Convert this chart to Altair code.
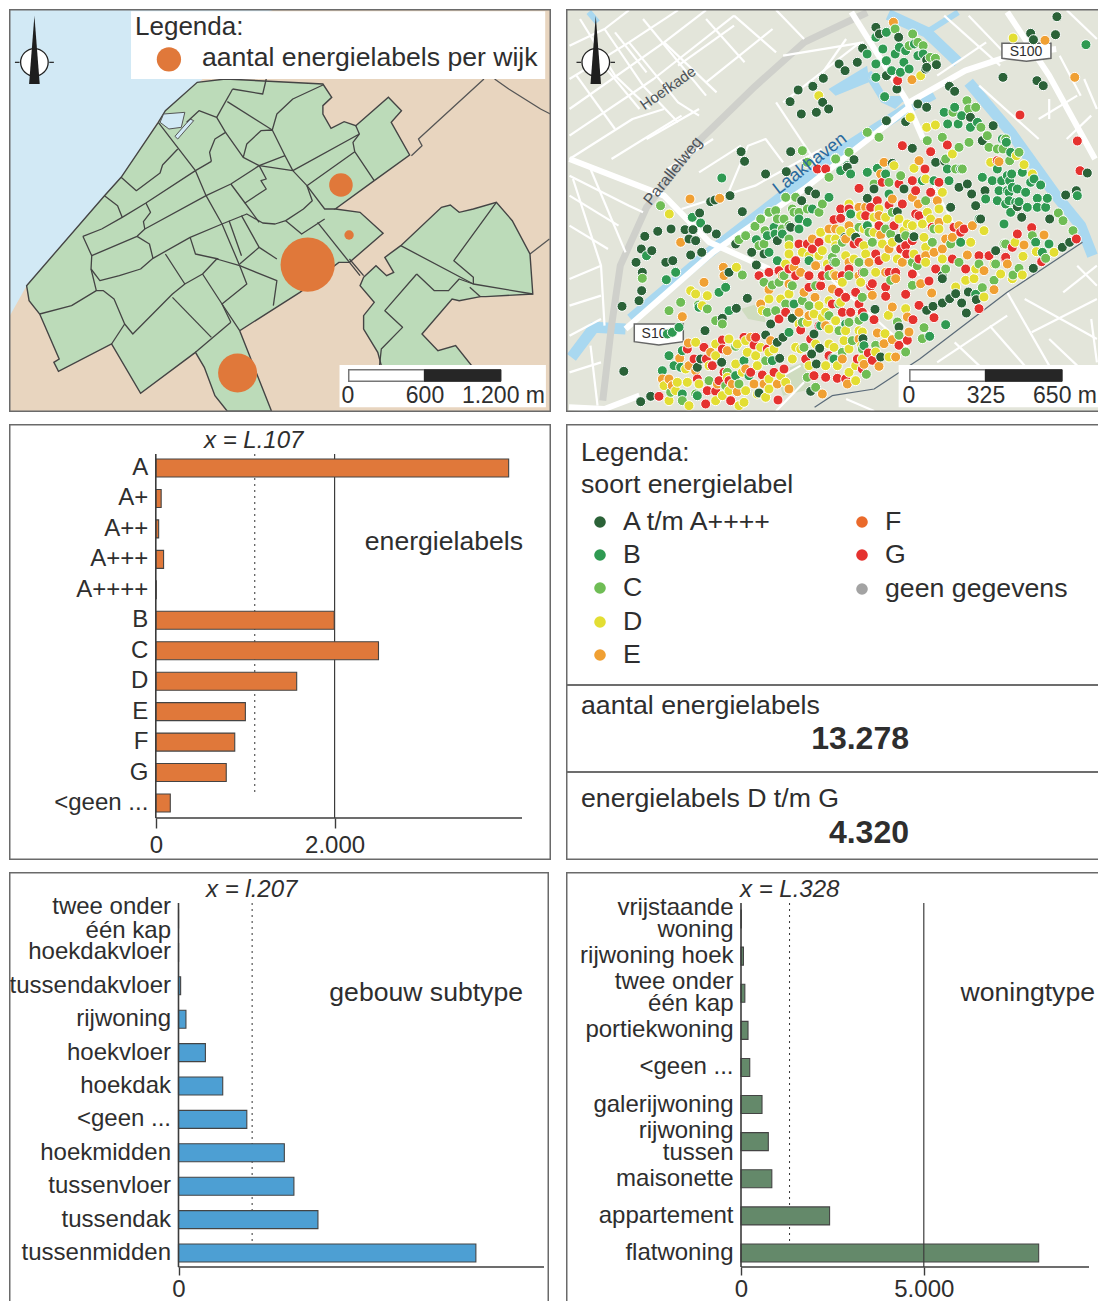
import altair as alt
import pandas as pd

FONT = "Liberation Sans"
INK = "#2e2e2e"
LINE = "#3c3c3c"
BOX = "#6a6a6a"
ORANGE = "#e0783a"

# ---------- bar data ----------
energy_cats = ["A", "A+", "A++", "A+++", "A++++", "B", "C", "D", "E", "F", "G", "<geen ..."]
energy_vals = [3947, 60, 32, 87, 5, 1996, 2491, 1576, 1002, 883, 788, 162]
sub_cats = ["twee onder|één kap\u00a0\u00a0", "hoekdakvloer", "tussendakvloer", "rijwoning", "hoekvloer", "hoekdak",
            "<geen ...", "hoekmidden", "tussenvloer", "tussendak", "tussenmidden"]
sub_vals = [1, 2, 35, 122, 441, 725, 1120, 1735, 1892, 2286, 4875]
type_cats = ["vrijstaande|woning", "rijwoning hoek", "twee onder|één kap", "portiekwoning", "<geen ...",
             "galerijwoning", "rijwoning|tussen", "maisonette", "appartement", "flatwoning"]
type_vals = [8, 67, 105, 192, 239, 575, 747, 843, 2423, 8142]

# ---------- legend data ----------
label_names = ["A t/m A++++", "B", "C", "D", "E", "F", "G", "geen gegevens"]
label_colors = ["#2b6238", "#2f9a52", "#6fbd55", "#e3de33", "#f0a033", "#ea6a2b", "#e5322f", "#a3a3a3"]

# ---------- left map (reference units) ----------
water = [(0, 0), (780, 0), (760, 40), (575, 240), (450, 365), (345, 535), (298, 590), (78, 860), (0, 955)]
main_area = [(78, 860), (298, 590), (345, 535), (450, 370), (470, 335), (560, 250), (640, 240), (915, 255), (940, 295),
             (915, 320), (915, 345), (938, 388), (975, 368), (1008, 380), (1100, 295), (1137, 335), (1108, 370),
             (1160, 468), (1060, 545), (950, 630), (1020, 640), (1085, 703), (990, 790), (960, 790), (850, 880),
             (680, 995), (770, 1250), (645, 1250), (610, 1190), (580, 1105), (555, 1060), (400, 1183), (318, 1035),
             (168, 1117), (155, 1090), (170, 1080), (115, 945), (85, 905)]
east_area = [(1030, 835), (1065, 800), (1095, 830), (1115, 820), (1090, 775), (1135, 740), (1250, 625), (1275, 618),
             (1300, 640), (1340, 630), (1405, 610), (1450, 665), (1500, 765), (1508, 885), (1375, 893), (1360, 893),
             (1300, 905), (1280, 900), (1195, 1005), (1240, 1055), (1290, 1040), (1335, 1100), (1080, 1100),
             (1070, 1060), (1030, 990), (1030, 950), (1060, 910), (1020, 860)]
harbour = [(465, 345), (525, 340), (515, 385), (480, 390), (455, 370)]
harbour2 = [(540, 360), (550, 365), (505, 420), (497, 412)]
wijk_lines = [
    [(450, 370), (555, 515), (585, 590), (630, 675), (680, 800), (700, 855), (630, 915), (680, 995)],
    [(345, 535), (388, 575), (455, 522), (462, 498), (505, 450)],
    [(298, 590), (335, 620), (348, 655)],
    [(237, 712), (290, 690), (348, 655), (415, 612), (555, 515), (600, 487)],
    [(415, 612), (428, 640), (408, 668), (412, 690)],
    [(237, 712), (262, 770), (260, 810), (275, 875)],
    [(262, 770), (390, 712), (412, 690), (585, 590), (655, 555), (735, 500), (808, 470)],
    [(390, 712), (425, 735), (435, 778)],
    [(260, 810), (285, 845), (340, 830), (400, 810), (435, 778), (540, 715), (630, 675), (700, 645), (745, 672), (780, 675), (810, 665)],
    [(600, 487), (595, 460), (610, 420), (640, 400), (615, 355), (565, 335), (530, 370)],
    [(615, 355), (660, 270)],
    [(640, 400), (690, 475), (735, 500), (755, 540), (740, 545), (755, 570), (695, 612), (655, 555)],
    [(690, 475), (700, 435), (740, 395), (772, 393), (808, 470), (830, 515)],
    [(772, 393), (645, 308)],
    [(772, 393), (785, 345), (830, 300), (915, 258)],
    [(660, 270), (745, 285), (755, 240)],
    [(830, 515), (1018, 405), (1000, 430), (1005, 458), (1060, 545)],
    [(1018, 405), (1008, 380)],
    [(870, 560), (885, 605), (860, 630), (810, 665), (855, 705), (920, 660)],
    [(735, 500), (830, 515), (870, 560), (1005, 458)],
    [(870, 560), (920, 630), (950, 630)],
    [(695, 612), (735, 670)],
    [(900, 670), (1020, 830)],
    [(470, 765), (525, 855), (575, 825), (615, 780), (680, 800), (785, 845), (775, 920)],
    [(540, 715), (555, 765), (620, 780)],
    [(650, 665), (685, 770)],
    [(685, 650), (735, 745), (680, 795)],
    [(735, 745), (785, 780)],
    [(575, 825), (630, 915), (655, 970)],
    [(525, 855), (490, 885), (378, 1005), (355, 975), (325, 900), (295, 875), (275, 875), (205, 920), (115, 945)],
    [(490, 895), (600, 1015)],
    [(355, 975), (318, 1035)],
    [(555, 1060), (655, 970)],
    [(1135, 740), (1340, 855), (1508, 885)],
    [(1405, 610), (1285, 785), (1340, 835), (1340, 855)],
    [(1180, 825), (1090, 935), (1140, 985), (1080, 1050), (1075, 1100)],
    [(1180, 825), (1230, 875), (1270, 875), (1300, 840), (1340, 855)],
    [(1360, 893), (1330, 865)],
    [(990, 780), (1030, 830)],
]
outer_lines = [
    [(1165, 470), (1195, 440), (1185, 420), (1370, 240)],
    [(1400, 240), (1440, 270), (1530, 330), (1560, 345)],
    [(1500, 765), (1555, 720)],
]
bubble_x = [872, 674, 966, 989]
bubble_y = [797, 1122, 558, 708]
bubble_n = [7652, 3952, 1445, 229]

# ---------- right map (reference units) ----------
major_roads = [
    [(1280, 25), (1400, 230), (1545, 480)],
    [(1000, 310), (1160, 215), (1290, 170), (1420, 150)],
    [(190, 990), (440, 760), (700, 570), (1000, 325)],
    [(30, 480), (300, 590), (430, 730), (600, 810)],
    [(835, 25), (990, 300), (1040, 420)],
    [(20, 1225), (130, 1235), (230, 1190)],
]
minor_roads = [
    [(30, 140), (130, 90), (200, 30)], [(30, 240), (200, 130), (340, 30)], [(30, 330), (300, 130), (420, 30)],
    [(30, 410), (270, 240), (500, 50)], [(130, 90), (240, 260), (340, 370)], [(200, 130), (340, 310), (400, 350)],
    [(300, 130), (450, 280)], [(420, 60), (530, 190)], [(500, 50), (620, 160)], [(620, 30), (700, 120)],
    [(160, 100), (250, 220)], [(50, 230), (160, 390)], [(120, 190), (230, 330)],
    [(30, 530), (200, 620), (240, 640)], [(30, 590), (170, 680)], [(30, 680), (140, 750)], [(40, 540), (120, 800), (130, 980)],
    [(90, 510), (190, 760)], [(30, 840), (120, 800)], [(30, 920), (120, 890)], [(30, 1010), (120, 960)],
    [(30, 1120), (120, 1090)], [(90, 1040), (110, 1220)],
    [(350, 630), (560, 560), (750, 450)], [(480, 590), (540, 440), (590, 420), (640, 490)], [(620, 310), (740, 500)],
    [(640, 170), (870, 130)], [(640, 310), (860, 130)], [(740, 240), (820, 120)],
    [(1100, 50), (1260, 200)], [(1170, 50), (1280, 170)], [(1450, 30), (1560, 120)], [(1200, 260), (1370, 420)],
    [(1370, 360), (1480, 290)], [(1430, 170), (1490, 290)], [(1500, 240), (1568, 330)],
    [(1280, 880), (1400, 1100)], [(1330, 900), (1568, 1020)], [(1350, 1000), (1568, 900)], [(1230, 980), (1330, 1100)],
    [(1080, 1090), (1280, 950)], [(1130, 1030), (1200, 1100)], [(1400, 1020), (1480, 1100)], [(1480, 800), (1568, 860)],
    [(1440, 880), (1550, 800)], [(1520, 960), (1568, 1090)],
    [(820, 1200), (900, 1240)], [(590, 1160), (690, 1100)], [(620, 1240), (700, 1150)],
    [(1040, 500), (1150, 720)], [(830, 600), (1030, 830)], [(690, 760), (1000, 1050)],
    [(60, 60), (160, 230), (260, 330)], [(240, 60), (420, 290)], [(340, 200), (500, 80)], [(420, 250), (610, 90)],
    [(30, 480), (210, 360), (300, 330)], [(250, 420), (400, 330)], [(310, 510), (440, 420)], [(150, 480), (350, 350)],
    [(1400, 300), (1400, 360)], [(1220, 130), (1080, 230)], [(1450, 420), (1520, 350)], [(400, 520), (520, 440)],
]
rail = [[(125, 1205), (150, 980), (175, 800), (250, 625), (400, 425), (560, 262), (700, 130), (880, 25)]]
water_wide = [
    [(205, 960), (430, 760), (640, 590), (770, 480), (1000, 325), (1070, 285)],
    [(1170, 250), (1290, 400), (1420, 590), (1490, 680), (1568, 770)],
    [(25, 1075), (100, 985), (190, 990)],
    [(940, 25), (1050, 100), (1140, 190)],
]
water_thin = [[(1050, 100), (1140, 40)], [(800, 270), (880, 220)], [(885, 220), (930, 300), (990, 300)], [(85, 25), (110, 70)]]
edge_line = [[(1495, 730), (1280, 880), (1030, 1080), (900, 1170), (780, 1190), (730, 1225)]]
park = [[(520, 930), (580, 910), (590, 970), (540, 960)], [(620, 1120), (700, 1090), (720, 1170), (640, 1190)]]

dots_A = [(867, 148), (800, 195), (817, 215), (852, 190), (905, 85), (970, 115), (1050, 183), (1078, 197), (1047, 210),
          (755, 238), (683, 273), (725, 262), (660, 308), (753, 310), (770, 330), (692, 345), (735, 340), (520, 458),
          (530, 487), (660, 458), (590, 525), (730, 583), (713, 577), (695, 605), (488, 590), (435, 605), (523, 638),
          (400, 640), (380, 655), (420, 690), (450, 707), (360, 695), (385, 695), (320, 690), (282, 697), (245, 712),
          (235, 750), (265, 755), (220, 790), (390, 755), (370, 735), (400, 720), (355, 765), (325, 785), (305, 790),
          (330, 815), (205, 838), (235, 875), (200, 882), (180, 922), (215, 905), (240, 905), (548, 760), (565, 797),
          (540, 885), (535, 905), (510, 930), (185, 1117), (1422, 53), (1347, 103), (1418, 107), (1355, 122), (1538, 175),
          (1268, 235), (1365, 245), (1383, 260), (1130, 277), (1115, 262), (1050, 325), (1025, 315), (1550, 485), (1507, 522),
          (1555, 550), (1448, 587), (1482, 575), (1437, 745), (1460, 730), (1405, 660), (1320, 657), (1355, 805), (1165, 945),
          (1165, 880), (1118, 897), (1090, 910), (1065, 920), (1048, 935), (1145, 905), (1010, 415), (1000, 455),
          (1015, 450), (950, 495), (1085, 495), (1100, 483), (1145, 540), (1165, 565), (1170, 590), (1215, 575), (1190, 620),
          (1120, 625), (1210, 425), (1240, 380), (1245, 455), (1175, 355), (905, 930), (985, 575), (900, 573), (880, 600),
          (815, 715), (855, 725), (950, 750), (1050, 790), (1095, 838), (635, 1080), (640, 1025), (630, 1000), (605, 975),
          (745, 1010), (745, 1075), (730, 1045), (460, 1090), (400, 1082), (415, 998), (320, 1140), (395, 1185), (260, 1195),
          (230, 1210), (205, 1225), (290, 1200), (925, 1075), (810, 1095), (735, 1180), (665, 1050), (835, 505), (825, 510),
          (845, 480), (805, 505), (935, 365), (990, 368), (945, 390), (660, 688), (680, 660), (640, 700), (915, 105),
          (1050, 205), (965, 270), (935, 230)]
dots_B = [(935, 100), (905, 115), (925, 150), (972, 145), (990, 155), (935, 185), (985, 190), (1015, 135), (1025, 170),
          (905, 235), (930, 293), (950, 215), (1000, 210), (975, 220), (1040, 165), (905, 195), (960, 165), (880, 165),
          (1505, 137), (1100, 340), (1130, 325), (1140, 375), (1175, 385), (1110, 375), (1150, 350), (1195, 395), (1130, 395),
          (1165, 415), (1195, 370), (1225, 415), (1260, 420), (1275, 430), (1290, 490), (1260, 510), (1230, 535), (1210, 540),
          (1240, 560), (1265, 545), (1290, 530), (1320, 550), (1245, 590), (1275, 590), (1300, 580), (1345, 575), (1260, 620),
          (1290, 620), (1320, 610), (1350, 610), (1380, 600), (1270, 650), (1300, 640), (1340, 635), (1400, 605), (1355, 545),
          (1375, 575), (1245, 520), (1300, 515), (1330, 530), (1430, 640), (1465, 695), (1270, 735), (1150, 510), (890, 405),
          (915, 400), (860, 440), (905, 425), (785, 490), (800, 520), (815, 535), (770, 535), (770, 600), (785, 570), (620, 640),
          (635, 670), (600, 660), (575, 665), (600, 700), (625, 695), (650, 660), (560, 690), (680, 625), (600, 645), (575, 730),
          (600, 765), (720, 632), (530, 715), (465, 537), (250, 770), (300, 840), (240, 820), (340, 990), (455, 880), (515, 828),
          (1105, 978), (1150, 730), (1170, 755), (975, 765), (1060, 860), (1210, 860), (1220, 885), (895, 880), (770, 810),
          (720, 790), (850, 750), (1030, 580), (1075, 550), (1050, 425), (1000, 425), (900, 510), (740, 640)]
dots_C = [(1537, 350), (698, 458), (1025, 130), (1010, 105), (1075, 178), (1040, 140), (960, 90), (1000, 140), (1060, 175),
          (1125, 340), (1165, 305), (1190, 325), (1145, 400), (1125, 420), (1075, 400), (1170, 330), (1205, 385), (1300, 460),
          (1330, 570), (1350, 665), (1370, 650), (1440, 665), (1410, 760), (1385, 735), (1260, 800), (1300, 830), (1240, 795),
          (1275, 740), (1240, 770), (660, 565), (640, 590), (690, 565), (590, 640), (555, 683), (520, 700), (600, 605), (625, 610),
          (640, 640), (600, 680), (575, 700), (640, 720), (680, 690), (775, 590), (800, 550), (850, 440), (880, 430), (925, 390),
          (520, 828), (315, 935), (345, 905), (400, 915), (290, 620), (370, 960), (910, 510), (875, 530), (1075, 540), (1100, 590),
          (1000, 600), (1040, 560), (910, 590), (850, 620), (870, 650), (820, 680), (760, 650), (720, 720), (690, 780), (660, 810),
          (600, 850), (630, 880), (770, 770), (740, 770), (840, 770), (900, 760), (960, 720), (1000, 790), (1035, 830), (1040, 980),
          (1045, 1015), (970, 970), (890, 1000), (820, 1020), (745, 960), (700, 900), (640, 980), (590, 1000), (560, 1040), (500, 1040),
          (430, 1060), (370, 1075), (310, 1070), (300, 1115), (380, 1185), (440, 1140), (520, 1130), (720, 1130), (770, 1100),
          (880, 1120), (800, 1060), (850, 1030), (950, 1040), (1190, 790), (1160, 830), (1210, 900)]
dots_D = [(1297, 117), (1548, 140), (742, 290), (1033, 230), (1003, 355), (1050, 385), (1075, 378), (1120, 467), (1305, 470),
          (1328, 495), (1350, 525), (1230, 495), (1213, 695), (1300, 730), (1327, 772), (1365, 730), (1360, 760), (1270, 830),
          (1235, 825), (1180, 800), (380, 885), (425, 890), (370, 870), (350, 905), (480, 840), (315, 645), (435, 965), (415, 985),
          (960, 450), (1015, 505), (960, 545), (1090, 580), (985, 530), (1105, 660), (1045, 720), (1040, 690), (970, 720), (910, 700),
          (905, 820), (880, 790), (815, 760), (815, 830), (780, 815), (745, 800), (745, 840), (730, 770), (690, 755), (665, 785),
          (635, 850), (655, 890), (710, 880), (745, 920), (780, 890), (800, 920), (840, 890), (870, 930), (900, 960), (960, 910),
          (990, 930), (1015, 870), (1060, 770), (1080, 720), (980, 830), (945, 840), (800, 990), (815, 1000), (860, 1000), (935, 1010),
          (1000, 1000), (770, 1030), (730, 985), (695, 1025), (670, 990), (590, 1030), (510, 1035), (445, 1045), (410, 1100), (370, 1150),
          (345, 1120), (510, 1110), (560, 1100), (600, 1070), (660, 1080), (700, 1100), (735, 1080), (840, 1060), (880, 1060), (910, 1040),
          (300, 1165), (530, 1170), (590, 1190), (555, 1220), (310, 1225), (1120, 660), (1170, 690), (1120, 780), (1145, 810), (1205, 790),
          (870, 700), (790, 665), (850, 650), (890, 660), (930, 640), (970, 660), (1000, 640), (1030, 640)]
dots_E = [(955, 70), (1388, 124), (1008, 242), (1473, 235), (373, 598), (460, 598), (347, 730), (475, 832), (415, 850), (352, 953),
          (1130, 500), (1080, 605), (1010, 595), (930, 490), (915, 605), (795, 650), (770, 690), (720, 750), (730, 800), (660, 855),
          (600, 885), (610, 910), (690, 920), (770, 850), (830, 860), (920, 760), (1000, 820), (1030, 915), (1060, 860), (1080, 810),
          (1140, 835), (1330, 735), (1325, 832), (1385, 710), (1180, 850), (460, 990), (470, 1010), (400, 1020), (345, 1080), (440, 1100),
          (510, 1180), (550, 1160), (610, 1210), (630, 1205), (750, 1020), (770, 985), (875, 1100), (915, 1095), (720, 1060), (700, 1060),
          (750, 1195), (985, 880), (790, 910), (830, 1010), (620, 1075), (1220, 750)]
dots_F = [(1030, 600), (965, 490), (940, 490), (835, 830), (1095, 880), (1060, 930), (620, 950), (690, 860), (510, 1070), (370, 1030),
          (1200, 820), (1150, 850), (1250, 760), (865, 835), (765, 730)]
dots_G = [(985, 38), (1555, 105), (1317, 348), (1482, 427), (1487, 515), (1527, 537), (967, 245), (738, 510), (980, 442),
          (1060, 460), (1110, 440), (1045, 510), (1105, 545), (1075, 517), (860, 567), (810, 625), (945, 618), (980, 620), (1000, 700),
          (990, 745), (985, 770), (870, 600), (910, 610), (835, 650), (770, 695), (745, 735), (780, 760), (850, 790), (890, 840), (930, 865),
          (900, 870), (880, 860), (720, 830), (750, 835), (700, 800), (630, 815), (990, 885), (1040, 875), (1010, 825), (950, 810), (1070, 960),
          (830, 935), (850, 915), (690, 995), (650, 1040), (615, 1030), (555, 1015), (540, 1035), (470, 1020), (395, 1050), (465, 1090),
          (425, 1180), (490, 1200), (575, 1130), (485, 1090), (730, 1135), (795, 1140), (770, 1155), (815, 1080), (860, 1070), (930, 1060),
          (1130, 685), (1150, 680), (1205, 925), (1280, 865), (1240, 870), (1280, 770), (1350, 685), (1310, 705), (1170, 770), (1100, 760),
          (285, 1195), (320, 1080)]

# closer readings of dense areas, in units of a third of a pixel from each area's corner
area1_origin = (630, 270, 240, 143)
area1 = {
    "G": [(450,5),(540,18),(578,22),(575,50),(680,70),(630,70),(665,130),(640,130),(690,105),(610,105),(570,170),(515,183),(450,150),(470,130),(380,205),(375,228),(280,213),(280,240),(225,235),(175,240),(195,270),(232,270),(285,310),(300,335),(400,318),(555,320),(590,325),(625,328),(235,365),(260,367),(305,395),(447,393),(90,382),(230,405),(685,270),(545,210),
          (415,240),(345,205),(250,290),(205,330),(270,335),(365,310),(435,310),(465,300),(530,270),(600,260),(650,330),(700,300),(700,130),(650,85),(540,55),(500,20),(420,10),(390,20)],
    "E": [(285,20),(225,40),(480,45),(420,62),(610,60),(160,143),(178,222),(295,245),(152,268),(558,85),(510,130),(525,70),(395,105),(120,330),(365,205),(325,368),(375,345),(655,345),(580,375),(690,210),(590,170),
          (690,20),(620,20),(540,140),(425,215),(350,300),(200,305),(245,250),(180,290),(100,330),(130,350),(265,345),(310,345),(405,345),(445,345),(480,360),(640,270)],
    "D": [(455,90),(185,65),(200,75),(235,80),(420,90),(570,110),(600,95),(635,100),(695,40),(640,40),(620,155),(650,185),(645,215),(690,185),(480,75),(325,225),(400,125),(435,240),(515,240),(490,270),(355,250),(320,285),(380,260),(385,290),(340,310),(175,340),(105,350),(210,345),(295,325),(375,412),(345,400),(660,310),(700,270),(680,335),(625,290),(600,225),(580,145),(590,130),(615,235),(500,235),(220,110),
          (555,135),(535,160),(510,165),(600,180),(560,225),(660,240),(680,290),(590,290),(540,290),(455,320),(420,330),(470,340),(420,250),(395,235),(350,215),(300,210),(260,225),(200,220),(260,260),(240,290),(170,300),(145,340),(140,365),(120,395),(180,410),(260,395),(280,380),(330,410),(410,385),(420,360),(385,375),(350,365),(300,365)],
    "C": [(340,18),(40,28),(155,100),(120,125),(208,108),(235,120),(320,232),(430,48),(405,40),(490,50),(560,50),(630,105),(640,250),(670,215),(525,235),(240,335),(290,350),(160,395),(200,375),(330,345),(280,165),(260,155),(295,310),(535,325),(560,355),(410,275),(700,240),(630,185),(125,370),
          (450,40),(465,20),(520,95),(600,20),(660,20),(700,85),(540,110),(520,160),(470,105),(440,125),(415,130),(600,140),(660,160),(690,150)],
    "B": [(112,32),(270,70),(290,55),(140,10),(300,125),(210,115),(150,175),(130,190),(115,195),(495,105),(120,260),(155,295),(135,290),(160,245),(345,275),(320,320),(100,305),(430,275),(480,190),(360,320),(615,270),(205,380),(160,375),(490,145),(650,165),(575,170),(705,230)],
    "A": [(140,8),(38,65),(30,95),(355,88),(322,118),(280,148),(228,185),(278,280),(205,295),(215,270),(425,165),(410,198),(462,205),(445,220),(490,148),(555,195),(572,238),(548,255),(562,285),(612,268),(452,268),(390,372),(300,10),(65,382),(35,398),(10,412),(545,367),(40,10)],
}
area2_origin = (780, 130, 240, 150)
area2 = {
    "G": [(370,50),(455,68),(505,48),(438,120),(480,160),(400,155),(240,178),(330,228),(295,215),(275,235),(185,240),(370,225),(410,255),(185,268),(165,272),(525,295),(545,310),(555,300),(460,295),(85,345),(120,340),(100,360),(225,345),(380,350),(383,375),(365,360),(290,375),(50,395),(655,95),(680,385),(600,380),(630,380),(330,430),(250,430),(130,440),(90,440),(190,440),(400,435),(115,120),(140,120),(420,260),(240,340),(300,395),
          (60,345),(210,240),(260,260),(345,290),(300,290),(400,335),(420,390),(520,390),(560,420),(470,420),(350,430),(210,420),(150,420),(30,420),(310,160),(360,165),(410,185),(455,190)],
    "E": [(315,100),(400,205),(418,225),(475,215),(240,235),(150,300),(100,330),(305,318),(465,370),(565,378),(540,290),(580,290),(45,415),(110,410),(615,425),(10,440),(320,430),(210,290),(490,360),(65,430),
          (260,235),(200,330),(170,300),(330,360),(270,400),(210,400),(500,330),(520,325),(480,280),(440,380),(370,400),(300,260),(340,210),(420,95),(305,135)],
    "D": [(520,75),(405,118),(440,150),(490,190),(345,110),(210,225),(285,265),(320,265),(70,370),(120,380),(125,310),(185,305),(285,310),(435,325),(575,340),(615,305),(505,270),(440,355),(430,285),(225,390),(490,390),(440,400),(165,435),(290,430),(590,420),(645,405),(360,270),(30,375),(20,405),(635,100),(375,305),(355,390),(260,375),
          (130,365),(145,405),(170,350),(200,380),(255,300),(255,350),(310,345),(340,340),(320,385),(400,290),(405,375),(455,270),(480,300),(480,240),(445,250),(385,285),(300,240),(245,260),(215,310),(170,330),(30,350),(90,380),(150,330)],
    "C": [(70,65),(445,35),(490,25),(540,55),(570,40),(625,20),(265,10),(300,25),(210,70),(150,145),(365,140),(330,160),(285,165),(40,240),(15,270),(45,250),(340,250),(440,215),(240,295),(270,310),(335,315),(515,345),(160,385),(415,410),(255,430),(85,100),(170,90),(630,55),(655,60),(680,30),(530,120),(650,405),(600,405),(465,300),(675,345),(500,90),(550,120),(20,205),(50,205),(130,225),
          (170,400),(240,400),(280,340),(320,300),(380,320),(400,400),(460,340),(500,420),(540,400),(170,360),(190,340),(60,250),(30,290),(85,240),(120,250),(10,300),(30,330)],
    "B": [(215,135),(150,205),(215,255),(100,240),(60,300),(85,280),(640,155),(610,145),(655,120),(685,140),(660,185),(690,190),(655,215),(620,210),(680,225),(710,220),(545,120),(465,155),(510,155),(505,120),(430,155),(295,118),(265,130),(320,135),(60,270),(10,315),(330,195),(545,340),(205,110),(185,125),(170,88),(265,290),(165,400),(90,395),(700,175),(600,270)],
    "A": [(35,68),(22,128),(90,185),(110,195),(68,215),(35,295),(225,92),(205,115),(340,103),(285,180),(375,180),(265,208),(355,248),(405,323),(198,325),(360,328),(400,58),(470,100),(497,97),(610,35),(540,175),(565,165),(578,195),(618,185),(590,230),(515,235),(605,270),(650,365),(490,440),(230,325)],
}
area3_origin = (860, 278, 200, 110)
area3 = {
    "G": [(40,20),(80,30),(140,52),(80,58),(35,28),(225,122),(45,128),(145,190),(360,95),(162,128),(180,85),(28,228),(40,250),(210,12),(120,205)],
    "E": [(40,55),(100,90),(218,48),(145,120),(150,165),(55,168),(100,188),(75,200),(15,262),(60,268),(110,240),(405,38),(185,20),(110,5)],
    "D": [(88,115),(140,95),(78,170),(10,165),(8,205),(50,225),(90,240),(375,60),(290,30),(320,10),(460,5),(345,5),(8,110)],
    "C": [(95,10),(115,135),(160,25),(120,175),(370,32),(195,152),(190,185),(405,10),(22,292),(140,225),(50,205),(0,130)],
    "B": [(260,143),(350,52),(212,178),(15,120)],
    "A": [(48,97),(203,100),(222,88),(250,78),(272,65),(308,78),(290,50),(328,45),(352,68),(322,108),(250,5),(65,240),(12,185),(120,150)],
}
area4_origin = (1000, 110, 100, 170)
area4 = {
    "G": [(63,18),(235,96),(243,185),(55,375),(98,356),(232,390),(40,415),(18,448),(128,458)],
    "E": [(285,207),(75,408),(25,465),(135,378),(0,158)],
    "D": [(52,140),(75,167),(165,430),(112,428),(72,442),(48,400),(5,495),(70,498),(100,195)],
    "C": [(20,405),(32,155),(178,312),(192,335),(222,365),(140,448),(60,478),(42,498),(100,380),(12,120),(60,130)],
    "B": [(10,90),(22,100),(35,130),(8,215),(38,195),(70,190),(32,215),(25,245),(55,240),(95,220),(105,210),(80,250),(125,228),(30,275),(60,278),(85,295),(115,268),(145,268),(35,310),(15,345),(115,295),(140,295),(110,400),(150,405),(130,430),(235,260)],
    "A": [(18,92),(55,293),(68,325),(152,330),(200,258),(232,245),(265,192),(190,415),(212,400),(103,478)],
}
area5_origin = (680, 190, 100, 80)
area5 = {
    "G": [(298,245)],
    "E": [(33,30),(122,28),(5,160),(133,235)],
    "D": [(172,235)],
    "C": [(270,70),(245,90),(295,90),(228,112),(258,125),(200,140),(180,152),(290,65),(255,165),(240,170)],
    "B": [(40,85),(65,102),(232,152),(288,135),(285,115),(265,140),(270,190),(295,215)],
    "A": [(95,38),(108,33),(153,20),(190,68),(62,72),(85,120),(112,135),(18,122),(42,122),(30,150),(50,155),(35,198),(68,190),(218,190),(232,228),(170,165),(255,195),(295,155)],
}
areas = [(area1_origin, area1), (area2_origin, area2), (area3_origin, area3), (area4_origin, area4), (area5_origin, area5)]

# ---------- layout helpers ----------
COL1, COL2 = 10, 567
ROW1, ROW2, ROW3 = 10, 426, 875
W1, W2, W3 = 542, 532, 540
H1, H2, H3 = 403, 436, 429


def text(s, px, py, x0, y0, size=24, align="left", **kw):
    return alt.Chart(pd.DataFrame({"t": [s]})).mark_text(
        font=FONT, fontSize=size, align=align, baseline="middle", color=kw.pop("color", INK), **kw
    ).encode(x=alt.value(px - x0), y=alt.value(py - y0), text="t:N")


def frame(w, h, sides):
    """Panel border lines; only the sides the reference shows."""
    out = []
    edge = pd.DataFrame({"e": [0]})
    m = alt.Chart(edge).mark_rule(stroke=BOX, strokeWidth=1.5)
    if "t" in sides:
        out.append(m.encode(x=alt.value(0), x2=alt.value(w), y=alt.value(0.75)))
    if "b" in sides:
        out.append(m.encode(x=alt.value(0), x2=alt.value(w), y=alt.value(h - 0.75)))
    if "l" in sides:
        out.append(m.encode(y=alt.value(0), y2=alt.value(h), x=alt.value(0.75)))
    if "r" in sides:
        out.append(m.encode(y=alt.value(0), y2=alt.value(h), x=alt.value(w - 0.75)))
    return out


PROJ = dict(type="identity", scale=1, translate=[0, 0])


def left_xy(p):
    return [p[0] / 2.825 - COL1, p[1] / 3 - ROW1]


def right_xy(p):
    return [560 + p[0] / 2.856 - COL2, p[1] / 3 - ROW1]


LIM = {left_xy: (W1, H1), right_xy: (W2, H1)}


def clamp(q, conv, m):
    w, h = LIM[conv]
    return [min(max(q[0], m), w - m), min(max(q[1], m), h - m)]


def polys(rings, conv, m):
    return alt.Data(values=[{"type": "Feature", "properties": {},
                             "geometry": {"type": "Polygon", "coordinates": [[clamp(conv(p), conv, m) for p in r + [r[0]]]]}} for r in rings])


def lines(paths, conv, m):
    return alt.Data(values=[{"type": "Feature", "properties": {},
                             "geometry": {"type": "LineString", "coordinates": [clamp(conv(p), conv, m) for p in r]}} for r in paths])


def fill_layer(rings, conv, color, stroke=None, sw=0):
    kw = dict(fill=color)
    if stroke:
        kw.update(stroke=stroke, strokeWidth=sw)
    else:
        kw.update(strokeWidth=0)
    return alt.Chart(polys(rings, conv, sw / 2)).mark_geoshape(**kw).project(**PROJ)


def line_layer(paths, conv, color, sw):
    return alt.Chart(lines(paths, conv, sw / 2)).mark_geoshape(filled=False, stroke=color, strokeWidth=sw,
                                                               strokeJoin="round", strokeCap="butt").project(**PROJ)


def north_arrow(cx, conv):
    spike = [(cx, 50), (cx + 15, 255), (cx - 15, 255)]
    a, b = conv((cx, 190))
    ring = alt.Chart(pd.DataFrame({"lon": [a], "lat": [b]})).mark_circle(
        size=760, fill="white", stroke="#222", strokeWidth=1.3, opacity=1
    ).encode(longitude="lon:Q", latitude="lat:Q").project(**PROJ)
    ticks = line_layer([[(cx - 55, 190), (cx - 42, 190)], [(cx + 42, 190), (cx + 55, 190)]], conv, "#222", 1.2)
    return [ring, ticks, fill_layer([spike], conv, "#1e1e1e")]


def scale_bar(x0, xm, x1, box_l, box_r, conv):
    return [
        fill_layer([[(box_l, 1098), (box_r, 1098), (box_r, 1225), (box_l, 1225)]], conv, "white"),
        fill_layer([[(x0, 1112), (xm, 1112), (xm, 1147), (x0, 1147)]], conv, "white", "#777", 1.5),
        fill_layer([[(xm, 1112), (x1, 1112), (x1, 1147), (xm, 1147)]], conv, "#262626", "#262626", 1),
    ]


# ---------- map 1 ----------
bub = pd.DataFrame({"lon": [left_xy((a, 0))[0] for a in bubble_x],
                    "lat": [left_xy((0, b))[1] for b in bubble_y], "n": bubble_n})
map1 = alt.layer(
    fill_layer([water], left_xy, "#d2e9f5"),
    line_layer(outer_lines, left_xy, "#555", 1.3),
    fill_layer([main_area, east_area], left_xy, "#bcdbb9", "#444", 1.4),
    fill_layer([harbour, harbour2], left_xy, "#d2e9f5", "#555", 1),
    line_layer(wijk_lines, left_xy, "#444", 1.3),
    alt.Chart(bub).mark_circle(color=ORANGE, opacity=1).encode(
        longitude="lon:Q", latitude="lat:Q",
        size=alt.Size("n:Q", scale=alt.Scale(domain=[0, 7652], range=[0, 2942]), legend=None)
    ).project(**PROJ),
    *north_arrow(100, left_xy),
    fill_layer([[(373, 37), (1543, 37), (1543, 240), (373, 240)]], left_xy, "white"),
    alt.Chart(pd.DataFrame({"lon": [left_xy((480, 0))[0]], "lat": [left_xy((0, 181))[1]]})).mark_circle(
        size=590, color=ORANGE, opacity=1).encode(longitude="lon:Q", latitude="lat:Q").project(**PROJ),
    text("Legenda:", 136, 28, COL1, ROW1, 26),
    text("aantal energielabels per wijk", 203, 59, COL1, ROW1, 26.6),
    *scale_bar(988, 1202, 1418, 962, 1545, left_xy),
    text("0", 349, 397, COL1, ROW1, 23, "center"),
    text("600", 426, 397, COL1, ROW1, 23, "center"),
    text("1.200 m", 546, 397, COL1, ROW1, 23, "right"),
    *frame(W1, H1, "tlbr"),
).properties(width=W1, height=H1, view=alt.ViewBackground(fill="#e8d5bf", stroke=None))

# ---------- map 2 ----------
rows = []
code = dict(zip("ABCDEFG", label_names))


def in_area(pg, o):
    return o[0] <= pg[0] <= o[0] + o[2] and o[1] <= pg[1] <= o[1] + o[3]


def add_dot(pg, key):
    px, py = pg[0] - COL2, pg[1] - ROW1
    if 6 <= px <= W2 - 6 and 6 <= py <= H1 - 6:
        rows.append({"lon": px, "lat": py, "label": code[key]})


for key, pts in zip("ABCDEFG", [dots_A, dots_B, dots_C, dots_D, dots_E, dots_F, dots_G]):
    for p in pts:
        pg = (560 + p[0] / 2.856, p[1] / 3)
        if not any(in_area(pg, o) for o, _ in areas):
            add_dot(pg, key)
for o, area in areas:
    for key, pts in area.items():
        for p in pts:
            add_dot((o[0] + p[0] / 3, o[1] + p[1] / 3), key)
dots = pd.DataFrame(rows).sort_values(["lon", "lat"]).reset_index(drop=True)
dots["k"] = range(len(dots))
map2 = alt.layer(
    fill_layer(park, right_xy, "#cfdcc0"),
    line_layer(water_wide, right_xy, "#a9d8f0", 11),
    line_layer(water_thin, right_xy, "#a9d8f0", 6),
    fill_layer([[(770, 270), (880, 200), (885, 240), (930, 300), (990, 300), (960, 330), (920, 310), (885, 250), (790, 290)]],
               right_xy, "#a9d8f0"),
    line_layer(rail, right_xy, "#cfd0cb", 7),
    line_layer(minor_roads, right_xy, "white", 2.2),
    line_layer(major_roads, right_xy, "white", 6),
    line_layer(edge_line, right_xy, "#5a6a78", 1.2),
    fill_layer([[(1265, 133), (1405, 133), (1405, 178), (1335, 187), (1265, 178)]], right_xy, "white", "#666", 1.5),
    fill_layer([[(215, 975), (355, 975), (355, 1028), (285, 1038), (215, 1028)]], right_xy, "white", "#666", 1.5),
    text("S100", 1027, 53, COL2, ROW1, 14, "center"),
    text("S10", 655, 335, COL2, ROW1, 14, "center"),
    alt.Chart(dots).mark_circle(opacity=1, size=100, stroke="white", strokeWidth=1).encode(
        longitude="lon:Q", latitude="lat:Q", order=alt.Order("k:Q"),
        color=alt.Color("label:N", scale=alt.Scale(domain=label_names, range=label_colors), legend=None)
    ).project(**PROJ),
    text("Hoefkade", 669, 89, COL2, ROW1, 15, "center", angle=325, color="#4c5258"),
    text("Parallelweg", 674, 172, COL2, ROW1, 16, "center", angle=309, color="#4c5258"),
    text("Laakhaven", 811, 165, COL2, ROW1, 18, "center", angle=322, color="#2a6a9e"),
    *north_arrow(105, right_xy),
    *scale_bar(1002, 1218, 1437, 970, 1600, right_xy),
    text("0", 910, 397, COL2, ROW1, 23, "center"),
    text("325", 987, 397, COL2, ROW1, 23, "center"),
    text("650 m", 1098, 397, COL2, ROW1, 23, "right"),
    *frame(W2, H1, "tlb"),
).properties(width=W2, height=H1, view=alt.ViewBackground(fill="#e3e5da", stroke=None))


# ---------- bar panels ----------
def bar_panel(cats, vals, color, x0, y0, w, h, zero_px, k, ticks, first, last, step, bar_h, axis_bottom,
              line_top, line_right, mean, mean_text, mean_x, mean_y, title, title_y, title_right, sides,
              solid=None, solid_front=False, lh=24, tick=10, pad=5):
    xs = alt.Scale(domain=[(x0 - zero_px) / k, (x0 + w - zero_px) / k], zero=False, nice=False)
    p = 1 - bar_h / step
    ys = alt.Scale(domain=cats, range=[first - y0 - step / 2, last - y0 + step / 2], paddingInner=p, paddingOuter=p / 2)
    df = pd.DataFrame({"cat": cats, "v": vals})
    xax = alt.Axis(values=ticks, title=None, grid=False, domain=False, orient="bottom", offset=-(y0 + h - axis_bottom),
                   tickSize=tick, tickColor=LINE, tickWidth=1.4, labelPadding=pad, labelFont=FONT, labelFontSize=24,
                   labelColor=INK, labelExpr="replace(format(datum.value, ','), ',', '.')", labelOverlap=False, labelFlush=False)
    yax = alt.Axis(title=None, domain=False, ticks=False, orient="left", offset=-(zero_px - x0), labelPadding=8, labelFont=FONT,
                   labelFontSize=24, labelColor=INK, labelLimit=400, labelExpr="split(datum.label, '|')", labelLineHeight=lh,
                   labelOffset={"condition": {"test": "indexof(datum.value, '|') >= 0", "value": -lh / 2}, "value": 0})
    bars = alt.Chart(df).mark_bar(color=color, stroke="#444", strokeWidth=1.1).encode(
        x=alt.X("v:Q", scale=xs, axis=xax, stack=None), y=alt.Y("cat:N", scale=ys, axis=yax, sort=None))
    xq = alt.X("v:Q", scale=xs, axis=xax)

    def vrule(v, top, bot, **kw):
        return alt.Chart(pd.DataFrame({"v": [v]})).mark_rule(**kw).encode(x=xq, y=alt.value(top - y0), y2=alt.value(bot - y0))

    dotted = vrule(mean, line_top, axis_bottom - 22, stroke="#333", strokeWidth=1, strokeDash=[2, 4])
    zero_line = vrule(0, line_top, axis_bottom, stroke=LINE, strokeWidth=1.6)
    base = alt.Chart(pd.DataFrame({"v": [0], "w": [(line_right - zero_px) / k]})).mark_rule(stroke=LINE, strokeWidth=1.6).encode(
        x=xq, x2="w:Q", y=alt.value(axis_bottom - y0))
    layers = [dotted]
    sol = vrule(solid, line_top, axis_bottom, stroke=LINE, strokeWidth=1.2) if solid else None
    if sol is not None and not solid_front:
        layers.append(sol)
    layers.append(bars)
    if sol is not None and solid_front:
        layers.append(sol)
    layers += [base, zero_line,
               alt.Chart(pd.DataFrame({"t": [mean_text]})).mark_text(
                   font=FONT, fontSize=24, fontStyle="italic", align="left", baseline="middle", color=INK
               ).encode(x=alt.value(mean_x - x0), y=alt.value(mean_y - y0), text="t:N"),
               text(title, title_right, title_y, x0, y0, 26.6, "right"),
               *frame(w, h, sides)]
    return alt.layer(*layers).properties(width=w, height=h, view=alt.ViewBackground(fill="white", stroke=None))


p_energy = bar_panel(energy_cats, energy_vals, ORANGE, COL1, ROW2, W1, H2, 156.8, 0.0894, [0, 2000], 470, 805, 30.45, 18,
                     820, 456, 523, 1107, "x = L.107", 205, 443, "energielabels", 544, 524, "tlbr", solid=2000)
p_sub = bar_panel(sub_cats, sub_vals, "#4d9fd3", COL1, ROW3, W3, H3, 179.5, 0.0610, [0], 922, 1256, 33.4, 18,
                  1270, 906, 545, 1207, "x = l.207", 207, 893, "gebouw subtype", 996, 524, "tlr", tick=8, pad=2)
p_type = bar_panel(type_cats, type_vals, "#64896a", COL2, ROW3, W2, H3, 742, 0.03656, [0, 5000], 922, 1256, 37.1, 18,
                   1270, 906, 1090, 1328, "x = L.328", 741, 893, "woningtype", 996, 1096, "tl", solid=5000, solid_front=True, lh=22, tick=8, pad=2)

# ---------- legend / figures panel ----------
leg_pos = [(601, 524), (601, 557), (601, 590), (601, 624), (601, 657), (863, 524), (863, 557), (863, 591)]
leg_layers = []
for name, col, (cx, cy) in zip(label_names, label_colors, leg_pos):
    leg_layers.append(alt.Chart(pd.DataFrame({"l": [name]})).mark_circle(size=135, color=col, opacity=1).encode(
        x=alt.value(cx - COL2), y=alt.value(cy - ROW2)))
    leg_layers.append(text(name, cx + 23, cy, COL2, ROW2, 26.7))


def divider(py):
    return alt.Chart(pd.DataFrame({"d": [py]})).mark_rule(stroke=LINE, strokeWidth=1.4).encode(
        x=alt.value(0), x2=alt.value(W2), y=alt.value(py - ROW2))


p_legend = alt.layer(
    text("Legenda:", 582, 455, COL2, ROW2, 26),
    text("soort energielabel", 582, 487, COL2, ROW2, 26.7),
    *leg_layers,
    divider(687), divider(774),
    text("aantal energielabels", 582, 708, COL2, ROW2, 26.7),
    text("13.278", 910, 741, COL2, ROW2, 32, "right", fontWeight="bold"),
    text("energielabels D t/m G", 582, 801, COL2, ROW2, 26.7),
    text("4.320", 910, 835, COL2, ROW2, 32, "right", fontWeight="bold"),
    *frame(W2, H2, "tlb"),
).properties(width=W2, height=H2, view=alt.ViewBackground(fill="white", stroke=None))

chart = alt.vconcat(
    alt.hconcat(map1, map2, spacing=13),
    alt.hconcat(p_energy, p_legend, spacing=13),
    alt.hconcat(p_sub, p_type, spacing=15),
    spacing=10,
).properties(padding=0, background="white").resolve_scale(x="independent", y="independent", color="independent", size="independent")

chart.save("out.html", embed_options={"renderer": "svg", "actions": False})
